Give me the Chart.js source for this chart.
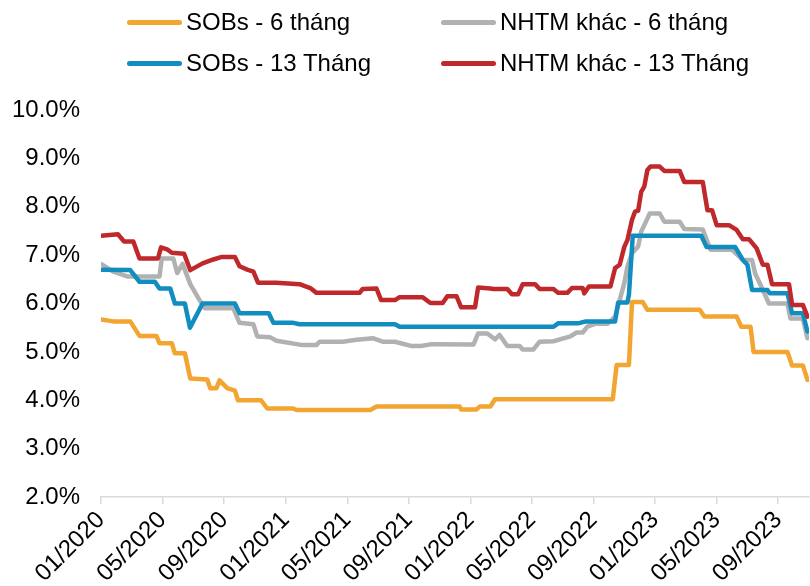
<!DOCTYPE html>
<html>
<head>
<meta charset="utf-8">
<script src="https://cdn.jsdelivr.net/npm/chart.js@4.4.0/dist/chart.umd.min.js"></script>
<style>
  html, body { margin: 0; padding: 0; background: #fff; }
  #wrap { position: relative; width: 810px; height: 586px; }
  #chart { display: block; }
  #legend { position: absolute; left: 0; top: 0; width: 810px; height: 90px;
    font-family: "Liberation Sans", Arial, sans-serif; font-size: 24px; color: #000; }
  .item { position: absolute; display: flex; align-items: center; height: 30px; white-space: nowrap; }
  .swatch { width: 55px; height: 5px; border-radius: 3px; margin-right: 4px; }
</style>
</head>
<body>
<div id="wrap">
  <canvas id="chart" width="810" height="586"></canvas>
  <div id="legend"></div>
</div>
<script>
// x values are months counted from 01/2020
const tickLabels = ["01/2020", "05/2020", "09/2020", "01/2021", "05/2021", "09/2021",
  "01/2022", "05/2022", "09/2022", "01/2023", "05/2023", "09/2023"];

const sobs6Months = [0, 0.8, 1.9, 2.5, 3.6, 3.8, 4.6, 4.8, 5.45, 5.8, 6.9, 7.1, 7.5, 7.7, 8.2, 8.7, 8.9,
  10.4, 10.8, 12.5, 12.7, 17.5, 17.9, 23.3, 23.4, 24.4, 24.6, 25.3, 25.6, 33.25, 33.5, 34.3, 34.5,
  35.2, 35.5, 38.9, 39.2, 41.3, 41.6, 42.2, 42.4, 44.6, 44.9, 45.6, 45.9];
const sobs6Rates = [5.67, 5.63, 5.63, 5.33, 5.33, 5.18, 5.18, 4.97, 4.97, 4.45, 4.43, 4.25, 4.25, 4.41, 4.25, 4.20, 4.00,
  4.00, 3.83, 3.83, 3.80, 3.80, 3.87, 3.87, 3.81, 3.81, 3.87, 3.87, 4.02, 4.02, 4.73, 4.73, 6.03,
  6.03, 5.87, 5.87, 5.73, 5.73, 5.52, 5.52, 5.00, 5.00, 4.72, 4.72, 4.42];

const nhtm6Months = [0, 0.8, 1.7, 3.8, 3.95, 4.7, 4.95, 5.3, 5.8, 6.4, 6.75, 8.6, 9.0, 9.9, 10.15, 11.0, 11.4,
  13.1, 14.0, 14.2, 15.7, 16.6, 17.7, 18.3, 19.1, 20.2, 20.8, 21.5, 24.2, 24.5, 25.1, 25.6, 25.9, 26.4,
  27.2, 27.4, 28.1, 28.5, 29.4, 30.5, 30.9, 31.3, 31.6, 32.1, 32.9, 33.4, 33.7, 34.0, 34.2, 34.5, 34.9,
  35.1, 35.3, 35.65, 36.3, 36.6, 37.6, 37.9, 39.1, 39.6, 41.0, 41.7, 42.3, 42.5, 42.9, 43.4, 44.6,
  44.8, 45.6, 45.9];
const nhtm6Rates = [6.82, 6.66, 6.56, 6.56, 6.93, 6.93, 6.63, 6.82, 6.40, 6.07, 5.90, 5.90, 5.60, 5.57, 5.32, 5.30, 5.23,
  5.14, 5.14, 5.21, 5.21, 5.25, 5.28, 5.21, 5.21, 5.12, 5.12, 5.16, 5.15, 5.38, 5.38, 5.26, 5.35, 5.12,
  5.12, 5.05, 5.05, 5.21, 5.22, 5.32, 5.40, 5.40, 5.52, 5.58, 5.58, 5.73, 6.07, 6.42, 6.76, 7.04, 7.18,
  7.49, 7.62, 7.86, 7.86, 7.69, 7.69, 7.54, 7.53, 7.11, 7.11, 6.90, 6.90, 6.62, 6.35, 6.00, 6.00,
  5.69, 5.69, 5.28];

const sobs13Months = [0, 1.9, 2.5, 3.5, 3.8, 4.5, 4.8, 5.45, 5.78, 6.6, 8.7, 9.0, 10.9, 11.2, 12.5, 12.9,
  19.1, 19.4, 29.4, 29.7, 31.0, 31.5, 33.4, 33.6, 34.2, 34.3, 34.55, 39.0, 39.35, 41.2, 41.7, 42.0,
  42.3, 43.3, 43.45, 44.6, 44.9, 45.6, 45.9];
const sobs13Rates = [6.70, 6.69, 6.45, 6.45, 6.31, 6.31, 6.00, 6.00, 5.50, 6.00, 6.00, 5.80, 5.80, 5.60, 5.60, 5.57,
  5.57, 5.52, 5.52, 5.59, 5.59, 5.63, 5.63, 6.02, 6.02, 6.18, 7.40, 7.40, 7.17, 7.17, 6.90, 6.80,
  6.28, 6.28, 6.21, 6.21, 5.80, 5.80, 5.42];

const nhtm13Months = [0, 1.1, 1.5, 2.1, 2.5, 3.7, 3.9, 4.3, 4.6, 5.4, 5.8, 6.6, 7.3, 7.8, 8.7, 9.0, 9.5, 9.9,
  10.2, 11.4, 12.9, 13.6, 14.0, 16.8, 17.0, 17.9, 18.2, 19.1, 19.4, 20.9, 21.4, 22.2, 22.5, 23.1, 23.4,
  24.3, 24.5, 25.3, 25.5, 26.4, 26.7, 27.1, 27.4, 28.2, 28.5, 29.4, 29.7, 30.3, 30.6, 31.3, 31.4, 31.7,
  33.1, 33.4, 33.7, 34.0, 34.2, 34.5, 34.7, 34.9, 35.1, 35.3, 35.5, 35.7, 36.3, 36.6, 37.6, 37.9, 39.1,
  39.4, 39.7, 40.0, 40.8, 41.3, 41.7, 42.1, 42.6, 43.0, 43.3, 43.6, 44.7, 44.9, 45.6, 45.9];
const nhtm13Rates = [7.40, 7.43, 7.28, 7.28, 6.93, 6.93, 7.16, 7.12, 7.05, 7.03, 6.69, 6.83, 6.91, 6.96, 6.96, 6.77, 6.70, 6.66,
  6.43, 6.43, 6.40, 6.32, 6.22, 6.22, 6.30, 6.31, 6.07, 6.07, 6.13, 6.13, 6.01, 6.01, 6.15, 6.15, 5.92,
  5.92, 6.33, 6.31, 6.30, 6.30, 6.19, 6.19, 6.40, 6.40, 6.30, 6.30, 6.22, 6.22, 6.32, 6.32, 6.21, 6.35,
  6.35, 6.73, 6.80, 7.17, 7.31, 7.73, 7.90, 7.92, 8.31, 8.42, 8.76, 8.83, 8.83, 8.74, 8.74, 8.51, 8.51,
  7.93, 7.93, 7.62, 7.62, 7.52, 7.33, 7.33, 7.14, 6.80, 6.80, 6.40, 6.40, 5.97, 5.97, 5.73];

const toPoints = (xs, ys) => xs.map((x, i) => ({ x: x, y: ys[i] }));

const series = [
  { label: "SOBs - 6 tháng", data: toPoints(sobs6Months, sobs6Rates), color: "#F2A530", order: 2 },
  { label: "NHTM khác - 6 tháng", data: toPoints(nhtm6Months, nhtm6Rates), color: "#B1B1B1", order: 3 },
  { label: "SOBs - 13 Tháng", data: toPoints(sobs13Months, sobs13Rates), color: "#118DC0", order: 1 },
  { label: "NHTM khác - 13 Tháng", data: toPoints(nhtm13Months, nhtm13Rates), color: "#BF292B", order: 0 },
];

// HTML legend, two rows of two
const legendSpots = [[127, 7], [441, 7], [127, 48], [441, 48]];
const legendEl = document.getElementById("legend");
series.forEach((s, i) => {
  const item = document.createElement("div");
  item.className = "item";
  item.style.left = legendSpots[i][0] + "px";
  item.style.top = legendSpots[i][1] + "px";
  item.innerHTML = '<span class="swatch" style="background:' + s.color + '"></span><span>' + s.label + "</span>";
  legendEl.appendChild(item);
});

const tickFont = { family: '"Liberation Sans", Arial, sans-serif', size: 24 };

new Chart(document.getElementById("chart").getContext("2d"), {
  type: "line",
  data: {
    datasets: series.map((s) => ({
      label: s.label,
      data: s.data,
      borderColor: s.color,
      backgroundColor: s.color,
      borderWidth: 4.5,
      pointRadius: 0,
      tension: 0,
      fill: false,
      order: s.order,
      borderJoinStyle: "round",
      borderCapStyle: "round",
    })),
  },
  options: {
    responsive: false,
    animation: false,
    layout: { padding: { top: 110, right: 1, bottom: 0, left: 0 } },
    scales: {
      x: {
        type: "linear",
        min: 0,
        max: 46,
        grid: { drawOnChartArea: false, drawTicks: true, tickLength: 7, color: "#d9d9d9", lineWidth: 1.5 },
        border: { color: "#d9d9d9", width: 1.5 },
        ticks: {
          stepSize: 4,
          includeBounds: false,
          autoSkip: false,
          minRotation: 45,
          maxRotation: 45,
          padding: 2,
          color: "#000",
          font: tickFont,
          callback: (value) => (value % 4 === 0 && tickLabels[value / 4]) ? tickLabels[value / 4] : null,
        },
        afterFit: (scale) => {
          scale.height = 89;
          scale.paddingLeft = 0;
          scale.paddingRight = 0;
        },
      },
      y: {
        min: 2,
        max: 10,
        grid: { display: false, drawTicks: false },
        border: { display: false },
        ticks: {
          stepSize: 1,
          padding: 21,
          color: "#000",
          font: tickFont,
          callback: (value) => value.toFixed(1) + "%",
        },
        afterFit: (scale) => {
          scale.width = 101;
        },
      },
    },
    plugins: {
      legend: { display: false },
      tooltip: { enabled: false },
    },
  },
});
</script>
</body>
</html>
